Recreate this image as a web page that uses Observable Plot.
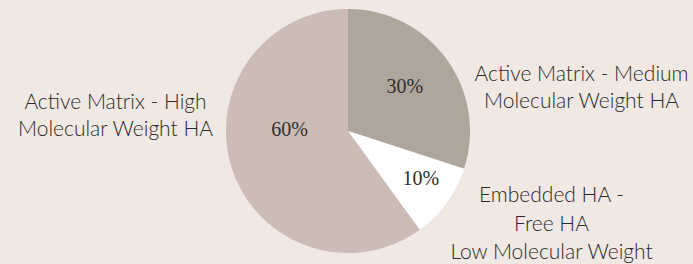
<!DOCTYPE html>
<html><head><meta charset="utf-8">
<script src="https://cdn.jsdelivr.net/npm/d3@7"></script>
<script src="https://cdn.jsdelivr.net/npm/@observablehq/plot@0.6"></script>
<style>html,body{margin:0;padding:0;background:#f0e8e2;overflow:hidden;}</style>
</head><body><div id="chart"></div>
<script>
const categories = ["Active Matrix - Medium\nMolecular Weight HA", "Embedded HA -\nFree HA\nLow Molecular Weight", "Active Matrix - High\nMolecular Weight HA"];
const shares = [30, 10, 60];
const percentLabels = ["30%", "10%", "60%"];
const sliceColors = ["#aea59b", "#ffffff", "#cbbdb5"];

const W = 693, H = 264, cx = 348, cy = 131, R = 122;
const total = d3.sum(shares);
let acc = 0;
const slices = shares.map((v, i) => {
  const a0 = acc / total * 2 * Math.PI; acc += v;
  const a1 = acc / total * 2 * Math.PI;
  return {i, value: v, a0, a1, mid: (a0 + a1) / 2, cat: categories[i], pct: percentLabels[i], color: sliceColors[i]};
});

function pieMark(index, scales) {
  const ox = scales.x(0), oy = scales.y(0);
  const r = scales.x(1) - scales.x(0);
  const g = d3.create("svg:g").attr("transform", `translate(${ox},${oy})`);
  const arc = d3.arc().innerRadius(0).outerRadius(r);
  g.selectAll("path").data(slices).join("path")
    .attr("d", d => arc({startAngle: d.a0, endAngle: d.a1}))
    .attr("fill", d => d.color);
  return g.node();
}

const pctNudge = [[7, -9], [23, 11], [-1, -21]];
const outerPos = [[581, 85], [551, 221], [115, 113]];
const outerLine = [1.3, 1.36, 1.3];

const plot = Plot.plot({
  width: W, height: H,
  margin: 0,
  style: {background: "#f0e8e2", overflow: "visible"},
  x: {domain: [-cx / R, (W - cx) / R], axis: null},
  y: {domain: [-(H - cy) / R, cy / R], axis: null},
  marks: [
    pieMark,
    ...slices.map((s, k) => Plot.text([s], {
      x: d => 0.5 * Math.sin(d.mid), y: d => 0.5 * Math.cos(d.mid), text: "pct",
      dx: pctNudge[k][0], dy: pctNudge[k][1],
      fontFamily: "Liberation Serif", fontSize: 20, fill: "#2e2e2e"
    })),
    ...slices.map((s, k) => Plot.text([s], {
      frameAnchor: "top-left", text: "cat",
      dx: outerPos[k][0], dy: outerPos[k][1],
      textAnchor: "middle", lineAnchor: "middle", lineHeight: outerLine[k],
      fontFamily: "Lato", fontWeight: 300, fontSize: 21, fill: "#2a2a2a"
    }))
  ]
});
document.getElementById("chart").append(plot);
</script>
</body></html>
